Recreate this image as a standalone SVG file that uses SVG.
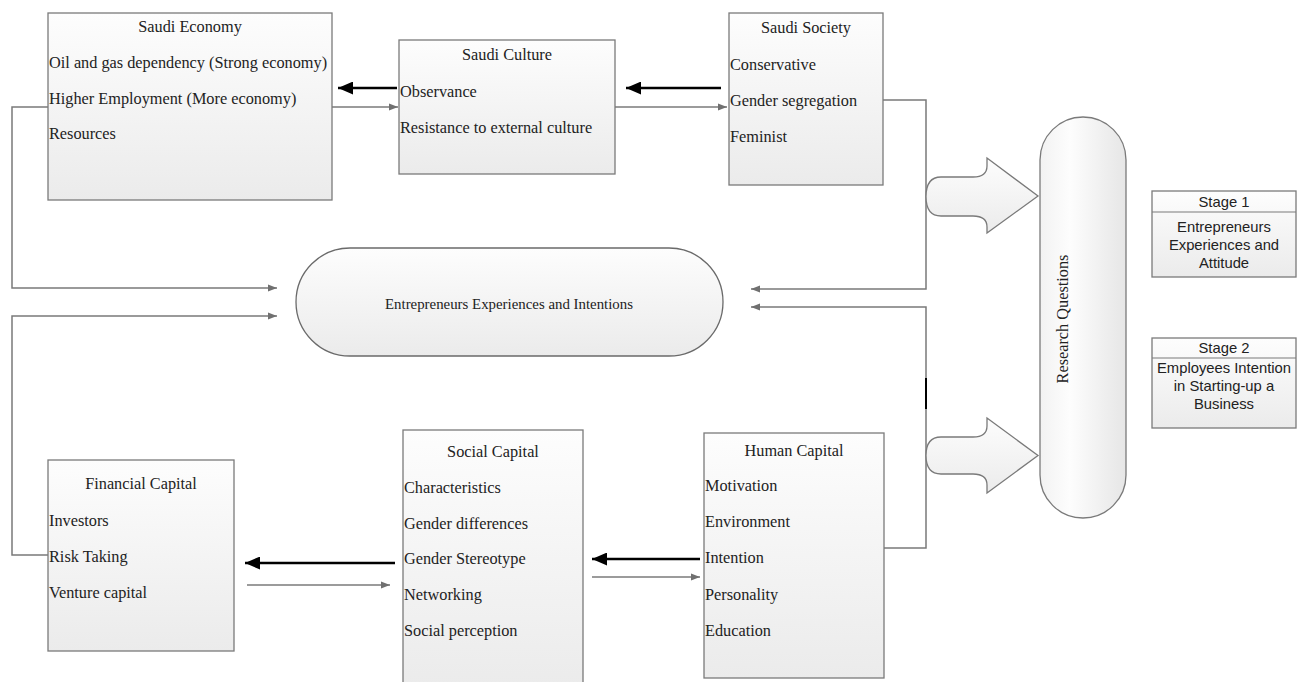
<svg xmlns="http://www.w3.org/2000/svg" width="1304" height="682" viewBox="0 0 1304 682">
<defs>
<linearGradient id="gBox" x1="0" y1="0" x2="0" y2="1">
<stop offset="0" stop-color="#fdfdfd"/><stop offset="1" stop-color="#ebebeb"/>
</linearGradient>
<linearGradient id="gH" x1="0" y1="0" x2="1" y2="0">
<stop offset="0" stop-color="#f2f2f2"/><stop offset="0.35" stop-color="#fdfdfd"/><stop offset="1" stop-color="#e6e6e6"/>
</linearGradient>
<marker id="mg" markerUnits="userSpaceOnUse" markerWidth="9" markerHeight="8" refX="9" refY="4" orient="auto">
<path d="M0,0.5 L9,4 L0,7.5 z" fill="#707070"/>
</marker>
<marker id="mb" markerUnits="userSpaceOnUse" markerWidth="15" markerHeight="13" refX="15" refY="6.5" orient="auto">
<path d="M0,0 L15,6.5 L0,13 z" fill="#000"/>
</marker>
</defs>
<style>
.box{fill:url(#gBox);stroke:#7a7a7a;stroke-width:1.3}
.t{font-family:"Liberation Serif","Times New Roman",serif;font-size:16.3px;fill:#222}
.c{text-anchor:middle}
.s{font-family:"Liberation Sans",Arial,sans-serif;font-size:14.8px;fill:#222;text-anchor:middle}
.cg{fill:none;stroke:#7a7a7a;stroke-width:1.5}
.cb{fill:none;stroke:#000;stroke-width:2.6}
</style>
<rect width="1304" height="682" fill="#fff"/>

<g id="connectors">
<path class="cg" d="M48 107 H12 V288 H277" marker-end="url(#mg)"/>
<path class="cg" d="M48 555 H12 V316 H277" marker-end="url(#mg)"/>
<path class="cg" d="M883 100 H926 V289 H751" marker-end="url(#mg)"/>
<path class="cg" d="M884 548 H926 V307 H751" marker-end="url(#mg)"/>
<line x1="926" y1="378" x2="926" y2="409" stroke="#000" stroke-width="2"/>
<path class="cg" d="M332 107 H398" marker-end="url(#mg)"/>
<path class="cg" d="M615 107 H727" marker-end="url(#mg)"/>
<path class="cb" d="M397 88 H338" marker-end="url(#mb)"/>
<path class="cb" d="M721 88 H626" marker-end="url(#mb)"/>
<path class="cb" d="M395 563 H245" marker-end="url(#mb)"/>
<path class="cg" d="M247 585 H390" marker-end="url(#mg)"/>
<path class="cb" d="M700 559 H592" marker-end="url(#mb)"/>
<path class="cg" d="M592 577 H700" marker-end="url(#mg)"/>
<path d="M941 177 L973 177 Q987 177 987 166 L987 158 L1038 196 L987 233 L987 227 Q987 216 973 216 L941 216 Q926 216 926 196.5 Q926 177 941 177 Z" fill="url(#gBox)" stroke="#7a7a7a" stroke-width="1.3"/>
<path d="M941 437 L973 437 Q987 437 987 426 L987 418 L1038 455.5 L987 493 L987 485 Q987 474 973 474 L941 474 Q926 474 926 455.5 Q926 437 941 437 Z" fill="url(#gBox)" stroke="#7a7a7a" stroke-width="1.3"/>
</g>

<g id="saudi-economy">
<rect class="box" x="48" y="13" width="284" height="187"/>
<text class="t c" x="190" y="31.5">Saudi Economy</text>
<text class="t" x="49" y="67.5">Oil and gas dependency (Strong economy)</text>
<text class="t" x="49" y="103.5">Higher Employment (More economy)</text>
<text class="t" x="49" y="138.5">Resources</text>
</g>

<g id="saudi-culture">
<rect class="box" x="399" y="40" width="216" height="134"/>
<text class="t c" x="507" y="59.5">Saudi Culture</text>
<text class="t" x="400" y="96.5">Observance</text>
<text class="t" x="400" y="132.5">Resistance to external culture</text>
</g>

<g id="saudi-society">
<rect class="box" x="729" y="13" width="154" height="172"/>
<text class="t c" x="806" y="32.5">Saudi Society</text>
<text class="t" x="730" y="69.5">Conservative</text>
<text class="t" x="730" y="105.5">Gender segregation</text>
<text class="t" x="730" y="141.5">Feminist</text>
</g>

<g id="entrepreneurs-experiences">
<rect x="296" y="248" width="427" height="108" rx="54" ry="54" fill="url(#gBox)" stroke="#6a6a6a" stroke-width="1.3"/>
<text class="t c" x="509" y="309" textLength="248" lengthAdjust="spacingAndGlyphs" style="font-size:15px">Entrepreneurs Experiences and Intentions</text>
</g>

<g id="research-questions">
<rect x="1040" y="117" width="86" height="401" rx="43" ry="43" fill="url(#gH)" stroke="#7a7a7a" stroke-width="1.3"/>
<text class="t c" transform="translate(1062,319) rotate(-90)" x="0" y="5.5">Research Questions</text>
</g>

<g id="stage-1">
<rect class="box" x="1152" y="191" width="144" height="86"/>
<line x1="1152" y1="212" x2="1296" y2="212" stroke="#7a7a7a" stroke-width="1.2"/>
<text class="s" x="1224" y="206.5">Stage 1</text>
<text class="s" x="1224" y="231.5">Entrepreneurs</text>
<text class="s" x="1224" y="249.5">Experiences and</text>
<text class="s" x="1224" y="267.5">Attitude</text>
</g>

<g id="stage-2">
<rect class="box" x="1152" y="338" width="144" height="90"/>
<line x1="1152" y1="358" x2="1296" y2="358" stroke="#7a7a7a" stroke-width="1.2"/>
<text class="s" x="1224" y="352.5">Stage 2</text>
<text class="s" x="1224" y="372.5">Employees Intention</text>
<text class="s" x="1224" y="390.5">in Starting-up a</text>
<text class="s" x="1224" y="408.5">Business</text>
</g>

<g id="financial-capital">
<rect class="box" x="48" y="460" width="186" height="191"/>
<text class="t c" x="141" y="488.5">Financial Capital</text>
<text class="t" x="49" y="525.5">Investors</text>
<text class="t" x="49" y="561.5">Risk Taking</text>
<text class="t" x="49" y="597.5">Venture capital</text>
</g>

<g id="social-capital">
<rect class="box" x="403" y="430" width="180" height="260"/>
<text class="t c" x="493" y="456.5">Social Capital</text>
<text class="t" x="404" y="492.5">Characteristics</text>
<text class="t" x="404" y="528.5">Gender differences</text>
<text class="t" x="404" y="563.5">Gender Stereotype</text>
<text class="t" x="404" y="599.5">Networking</text>
<text class="t" x="404" y="635.5">Social perception</text>
</g>

<g id="human-capital">
<rect class="box" x="704" y="433" width="180" height="245"/>
<text class="t c" x="794" y="455.5">Human Capital</text>
<text class="t" x="705" y="490.5">Motivation</text>
<text class="t" x="705" y="526.5">Environment</text>
<text class="t" x="705" y="562.5">Intention</text>
<text class="t" x="705" y="599.5">Personality</text>
<text class="t" x="705" y="635.5">Education</text>
</g>
</svg>
